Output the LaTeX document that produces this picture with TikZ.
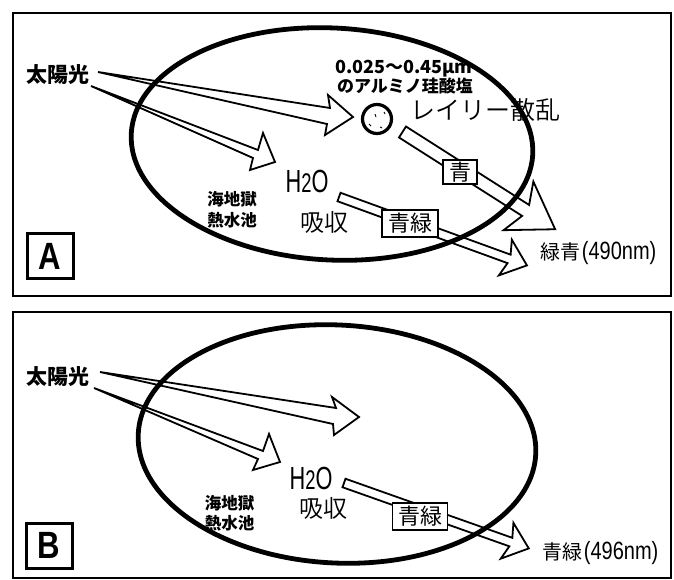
\documentclass[tikz,border=0pt]{standalone}
\usepackage{fontspec}
\setmainfont{Liberation Sans}
\newfontfamily\jp{Noto Sans CJK JP}
\IfFontExistsTF{Noto Sans CJK JP DemiLight}{\newfontfamily\jpl{Noto Sans CJK JP DemiLight}}{\IfFontExistsTF{Noto Sans CJK JP Light}{\newfontfamily\jpl{Noto Sans CJK JP Light}}{\newfontfamily\jpl{Noto Sans CJK JP}}}
\newfontfamily\cond{Liberation Sans}[FakeStretch=0.68]
\newfontfamily\condw{Liberation Sans}[FakeStretch=0.8]
\newfontfamily\condb{Liberation Sans}[FakeStretch=0.82]
\begin{document}
\begin{tikzpicture}[x=1pt,y=-1pt,line join=miter,
  frame/.style={line width=2pt},
  oval/.style={line width=4.8pt},
  arr/.style={line width=1.8pt,fill=white},
  lbl/.style={draw,line width=1.5pt,fill=white,inner sep=0pt,font={\jp\fontsize{22}{22}\selectfont}},
  letterbox/.style={draw,line width=3pt,inner sep=0pt,minimum width=46,minimum height=45,font={\condb\bfseries\fontsize{38}{38}\selectfont}},
  sun/.style={inner sep=0pt,font={\jp\bfseries\fontsize{21}{21}\selectfont}},
  small/.style={inner sep=0pt,align=center,font={\jp\bfseries\fontsize{16.5}{20.5}\selectfont}},
  thin/.style={inner sep=0pt,font={\jpl\fontsize{24}{24}\selectfont}},
  water/.style={inner sep=0pt,font={\cond\fontsize{32}{32}\selectfont}},
  result/.style={inner sep=0pt,anchor=west}
]
\useasboundingbox (0,0) rectangle (674,580);

% ---------------- Panel A ----------------
\draw[frame] (13,13) rectangle (671,296);

% sunlight wedge arrows
\draw[arr] (98,72) -- (330,108) -- (328,95) -- (353,117) -- (325,135) -- (327,124) -- cycle;
\draw[arr] (91,86) -- (258,150) -- (263,133) -- (275,162) -- (250,170) -- (253,158) -- cycle;

% band arrows
\begin{scope}[shift={(402.5,132)},rotate=-32.5]
  \draw[arr] (0,-6.5) -- (146,-6.5) -- (137,-28.5) -- (181,0) -- (138,28.5) -- (146,6.5) -- (0,6.5) -- cycle;
\end{scope}
\begin{scope}[shift={(339,197)},rotate=-20]
  \draw[arr] (0,-4.5) -- (181,-4.5) -- (177,-19) -- (200,0) -- (177,19) -- (181,4.5) -- (0,4.5) -- cycle;
\end{scope}

% oval
\draw[oval,rotate around={-3:(332,144)}] (332,144) ellipse[x radius=201,y radius=116];

% particle
\draw[line width=3.2pt] (377,119) circle[radius=14.5];
\draw[line width=0.9pt] (375,114) -- (376,117) (369,124) -- (371,126) (380,127) -- (382,128) (384,112) -- (385,114);

% labels on bands
\node[lbl,minimum width=34,minimum height=24] (blueA) at (460,172) {青};
\node[lbl,minimum width=56,minimum height=27] (bgA) at (410,223.5) {青緑};

% texts
\node[sun] (sunA) at (58.5,75) {太陽光};
\node[inner sep=0pt,font={\jp\bfseries\fontsize{18}{18}\selectfont}] (sizeA) at (404,68.5) {0.025～0.45μm};
\node[inner sep=0pt,font={\jp\bfseries\fontsize{17}{17}\selectfont}] (alA) at (405,86) {のアルミノ珪酸塩};
\node[inner sep=0pt,font={\jpl\fontsize{25}{25}\selectfont}] (rayA) at (485,110) {レイリー散乱};
\node[water] (h2oA) at (307,181) {H{\fontsize{27}{27}\selectfont 2}O};
\node[thin] (absA) at (324,222.5) {吸収};
\node[small] (hellA) at (232,209.5) {海地獄\\熱水池};
\node[result] (resA) at (540,253) {{\jp\fontsize{20}{20}\selectfont 緑青}\,{\condw\fontsize{25}{25}\selectfont (490nm)}};
\node[letterbox] (boxA) at (50,256) {A};

% ---------------- Panel B ----------------
\draw[frame] (13,312) rectangle (671,578);

\draw[arr] (100,372) -- (336,408) -- (332,397) -- (359,417) -- (334,435) -- (333,424) -- cycle;
\draw[arr] (94,388) -- (263,451) -- (269,434) -- (280,462) -- (253,470) -- (258,459) -- cycle;

\begin{scope}[shift={(344,483)},rotate=-19.5]
  \draw[arr] (0,-4.5) -- (177,-4.5) -- (173,-19) -- (196,0) -- (173,19) -- (177,4.5) -- (0,4.5) -- cycle;
\end{scope}

\draw[oval,rotate around={-3:(337,444)}] (337,444) ellipse[x radius=199,y radius=119];

\node[lbl,minimum width=55,minimum height=27] (bgB) at (420,516.5) {青緑};

\node[sun] (sunB) at (58.5,377) {太陽光};
\node[water] (h2oB) at (311,478) {H{\fontsize{27}{27}\selectfont 2}O};
\node[thin] (absB) at (323,508) {吸収};
\node[small] (hellB) at (229.5,513) {海地獄\\熱水池};
\node[result] (resB) at (542,553) {{\jp\fontsize{20}{20}\selectfont 青緑}\,{\condw\fontsize{25}{25}\selectfont (496nm)}};
\node[letterbox] (boxB) at (49,545.5) {B};
\end{tikzpicture}
\end{document}
